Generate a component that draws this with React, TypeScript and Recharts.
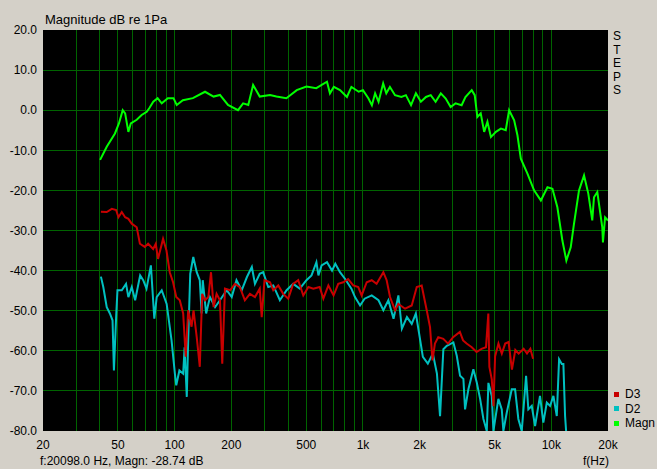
import React from "react";
import { LineChart, Line, XAxis, YAxis, CartesianGrid } from "recharts";

type Pt = { f: number; db: number };

const magnPoints: [number, number][] = [
  [40.2, -12.4], [43.6, -9.1], [48.2, -5.8], [50.6, -3.3], [53, 0], [54.6, -0.8], [56.8, -5.4], [58.5, -3.3],
  [62.9, -2.4], [66.8, -1.2], [71.1, -0.4], [73.3, 0.5], [77, 2.1], [81.2, 3.0], [85.4, 1.7], [92, 3.0],
  [98.6, 3.0], [102.6, 1.3], [110.6, 2.5], [125, 3.0], [145, 4.6], [161, 3.4], [174, 3.8], [192, 1.3],
  [217, 0], [231, 1.7], [246, 1.3], [261, 6.3], [283, 3.4], [321, 3.8], [347, 3.4], [392, 3.0],
  [445, 5.0], [501, 5.9], [565, 5.5], [644, 7.1], [668, 4.2], [700, 5.8], [755, 5.0], [822, 3.3],
  [868, 5.8], [949, 4.6], [1000, 5.0], [1070, 2.9], [1115, 1.25], [1160, 4.2], [1210, 2.1], [1280, 6.7],
  [1330, 4.2], [1390, 5.8], [1480, 3.75], [1600, 3.3], [1690, 3.75], [1800, 1.25], [1910, 4.2], [2030, 2.1],
  [2160, 3.3], [2290, 3.75], [2430, 2.1], [2590, 4.2], [2750, 2.9], [2920, 0.8], [3100, 1.7], [3340, 1.25],
  [3500, 3.3], [3780, 5.0], [3920, 3.75], [4050, -1.7], [4220, -0.8], [4400, -5.4], [4580, -2.9], [4780, -6.7],
  [5080, -5.4], [5400, -4.6], [5730, -5.0], [5970, 0], [6350, -2.5], [6610, -6.25], [6890, -12.1], [7470, -15.8],
  [8100, -20], [8800, -22.5], [9540, -19.2], [10140, -19.6], [10770, -24.2], [11450, -32.5], [12020, -37.5],
  [12680, -34.2], [13200, -28.3], [14030, -20], [14920, -16.25], [15720, -20.8], [16500, -27.5], [16850, -21.7],
  [17550, -20.4], [18650, -29.2], [18800, -33], [19300, -26.7], [20000, -27.5],
];

const d3Points: [number, number][] = [
  [40.6, -25.3], [43.6, -25.4], [46.4, -24.6], [48.9, -24.9], [50.3, -26.7], [52.4, -25.4], [54.6, -26.7],
  [56.8, -27.1], [59.2, -28.3], [62.9, -29.2], [65.4, -33.3], [69.4, -34.1], [72.3, -33.3], [76.9, -34.6],
  [79.4, -33.3], [81.6, -37.1], [86.8, -32.1], [90.5, -35], [94.2, -40.4], [98.1, -42.9], [102, -46.6],
  [106.5, -47.4], [111, -50.7], [114.5, -61.5], [118, -49.9], [123, -54], [126, -49.9], [131, -56.6],
  [136, -64], [140, -45.8], [145, -47.4], [151, -46.6], [156, -40.4], [161, -49.1], [167, -45.8], [174, -47.4],
  [179, -63.2], [185, -44.5], [197, -44.9], [209, -43.3], [222, -44.1], [236, -47.4], [251, -45.8],
  [267, -46.6], [283, -44.5], [290, -51.6], [300, -42.4], [321, -42.9], [334, -44.9], [355, -43.7],
  [377, -45.8], [401, -47], [426, -43.3], [453, -42.4], [482, -46.2], [513, -44.1], [545, -44.5], [589, -44.1],
  [616, -47], [655, -43.7], [698, -46.2], [739, -43.3], [786, -42.9], [834, -42.1], [888, -43.7], [944, -44.1],
  [984, -46.2], [1047, -42.9], [1113, -42.4], [1181, -43.3], [1283, -40.4], [1336, -42.4], [1392, -46.6],
  [1481, -49.9], [1542, -48.3], [1673, -49.5], [1815, -48.7], [1930, -44.1], [2050, -43.7], [2180, -49.9],
  [2270, -54.1], [2340, -62.4], [2410, -58.2], [2510, -56.6], [2670, -57], [2830, -58.2], [3010, -56.6],
  [3270, -55.3], [3400, -57.4], [3550, -58.2], [3780, -59.1], [4010, -60.3], [4260, -59.5], [4500, -59.1],
  [4630, -50.7], [4690, -64], [4830, -67.1], [4930, -73.8], [5030, -61.4], [5240, -58.2], [5460, -60.7],
  [5690, -58.2], [5930, -57.8], [6180, -64.7], [6440, -59.8], [6710, -60.7], [7130, -59.5], [7430, -60.7],
  [7740, -59.5], [8000, -62],
];

const d2Points: [number, number][] = [
  [40.6, -41.5], [41.8, -44.1], [43.6, -49.1], [45.3, -50.7], [46.8, -52.4], [47.6, -64.9], [48.9, -51.6],
  [49.7, -44.9], [52.4, -44.9], [55.2, -43.3], [56.8, -46.6], [59.2, -44.1], [61.7, -47.4], [65.6, -41.2],
  [68.1, -42.4], [70.9, -44.5], [74.8, -38.7], [78, -52], [80.3, -46.6], [85.4, -44.9], [90.7, -48.3],
  [96.3, -57.4], [100.3, -65.7], [102, -68.6], [106, -64.9], [111, -65.7], [113, -59.1], [116, -71.5],
  [118, -57.4], [121, -40.8], [125.6, -36.6], [131, -40.4], [136, -42.4], [139, -50.7], [141, -42.4],
  [147, -50.7], [154, -46.6], [164, -49.1], [174, -47.4], [189, -44.9], [201, -46.6], [213, -42.4],
  [227, -44.9], [242, -41.6], [257, -39.1], [267, -43.3], [283, -40.8], [295, -40.4], [314, -44.1],
  [334, -43.7], [362, -47.4], [393, -44.9], [426, -43.3], [462, -44.5], [501, -42.4], [533, -41.2],
  [566, -37.9], [580, -41.2], [603, -38.7], [644, -37.9], [685, -40], [713, -38.3], [755, -40.4], [804, -42.1],
  [868, -44.5], [907, -46.6], [965, -48.7], [1020, -47], [1113, -46.2], [1209, -47.4], [1283, -49.9],
  [1364, -47.4], [1453, -52], [1542, -46.2], [1609, -54.5], [1712, -51.6], [1815, -53.3], [1909, -50.7],
  [1987, -55.7], [2080, -61.5], [2210, -63.2], [2350, -60.7], [2470, -65.7], [2566, -76.3], [2672, -59.6],
  [2786, -58.75], [3020, -57.9], [3148, -61.25], [3278, -66.25], [3414, -67], [3484, -74.6], [3628, -69.6],
  [3856, -64.6], [4020, -67.9], [4188, -72], [4360, -77], [4544, -80], [4634, -68], [4830, -71.25],
  [4926, -80], [5236, -72], [5458, -74.6], [5566, -80], [5802, -75.4], [6166, -69.6], [6422, -69.6],
  [6684, -77], [6968, -80], [7346, -66.25], [7552, -74.6], [7872, -73.75], [8200, -78.75], [8710, -71.25],
  [9072, -77.9], [9464, -72.9], [9852, -73.75], [10258, -71.25], [10692, -76.25], [10998, -62.1],
  [11370, -63.3], [11592, -63.3], [11834, -76.25], [11984, -80],
];

const xTicks = [20, 50, 100, 200, 500, 1000, 2000, 5000, 10000, 20000];
const xTickLabels = ["20", "50", "100", "200", "500", "1k", "2k", "5k", "10k", "20k"];
const yTicks = [-80, -70, -60, -50, -40, -30, -20, -10, 0, 10, 20];
const gridFreqs = [
  30, 40, 50, 60, 70, 80, 90, 100, 200, 300, 400, 500, 600, 700, 800, 900,
  1000, 2000, 3000, 4000, 5000, 6000, 7000, 8000, 9000, 10000,
];
const gridDb = [-70, -60, -50, -40, -30, -20, -10, 0, 10];

const legendItems = [
  { name: "D3", color: "#c80000" },
  { name: "D2", color: "#00c0c0" },
  { name: "Magn", color: "#00ff00" },
];

const toPts = (a: [number, number][]): Pt[] => a.map(([f, db]) => ({ f, db }));

const FONT = '"Liberation Sans", Arial, sans-serif';
const GRID = "#006400";

export default function App() {
  const xLabel = (v: number) => {
    const i = xTicks.indexOf(v);
    return i >= 0 ? xTickLabels[i] : String(v);
  };
  return (
    <div
      style={{
        position: "absolute",
        left: 0,
        top: 0,
        width: 657,
        height: 469,
        background: "#d4d0c8",
        fontFamily: FONT,
        overflow: "hidden",
      }}
    >
      <style>{".recharts-cartesian-grid line{shape-rendering:crispEdges}"}</style>
      <LineChart width={657} height={469} margin={{ top: 30, right: 49, bottom: 0, left: 0 }}>
        <CartesianGrid
          fill="#000000"
          fillOpacity={1}
          stroke={GRID}
          strokeWidth={1}
          horizontalValues={gridDb}
          verticalValues={gridFreqs}
        />
        <XAxis
          dataKey="f"
          type="number"
          scale="log"
          domain={[20, 20000]}
          ticks={xTicks}
          tickFormatter={xLabel}
          allowDataOverflow
          height={38}
          tickLine={false}
          axisLine={false}
          tickSize={0}
          tickMargin={9}
          interval={0}
          tick={{ fill: "#000", fontSize: 12, fontFamily: FONT }}
        />
        <YAxis
          type="number"
          domain={[-80, 20]}
          ticks={yTicks}
          tickFormatter={(v: number) => v.toFixed(1)}
          allowDataOverflow
          width={43}
          tickLine={false}
          axisLine={false}
          tickSize={0}
          tickMargin={6}
          interval={0}
          tick={{ fill: "#000", fontSize: 12, fontFamily: FONT }}
        />
        <Line
          data={toPts(d2Points)}
          dataKey="db"
          stroke="#00c0c0"
          strokeWidth={2}
          dot={false}
          isAnimationActive={false}
          type="linear"
        />
        <Line
          data={toPts(d3Points)}
          dataKey="db"
          stroke="#c80000"
          strokeWidth={2}
          dot={false}
          isAnimationActive={false}
          type="linear"
        />
        <Line
          data={toPts(magnPoints)}
          dataKey="db"
          stroke="#00ff00"
          strokeWidth={2}
          dot={false}
          isAnimationActive={false}
          type="linear"
        />
      </LineChart>

      <div style={{ position: "absolute", left: 45, top: 12, fontSize: 13, lineHeight: "15px", color: "#000" }}>
        Magnitude dB re 1Pa
      </div>
      <div
        style={{
          position: "absolute",
          left: 611,
          top: 30,
          width: 12,
          fontSize: 12,
          lineHeight: "13.5px",
          textAlign: "center",
          color: "#000",
        }}
      >
        {"STEPS".split("").map((c, i) => (
          <div key={i}>{c}</div>
        ))}
      </div>
      {legendItems.map((it, i) => (
        <div
          key={it.name}
          style={{
            position: "absolute",
            left: 614,
            top: 387 + i * 14.5,
            height: 14,
            fontSize: 12,
            lineHeight: "14px",
            color: "#000",
            display: "flex",
            alignItems: "center",
            whiteSpace: "nowrap",
          }}
        >
          <span style={{ display: "inline-block", width: 5, height: 5, background: it.color, marginRight: 6 }} />
          {it.name}
        </div>
      ))}
      <div style={{ position: "absolute", left: 40, top: 454, fontSize: 12, lineHeight: "14px", color: "#000", whiteSpace: "nowrap" }}>
        f:20098.0 Hz, Magn: -28.74 dB
      </div>
      <div style={{ position: "absolute", left: 583, top: 454, fontSize: 12, lineHeight: "14px", color: "#000" }}>
        f(Hz)
      </div>
    </div>
  );
}
